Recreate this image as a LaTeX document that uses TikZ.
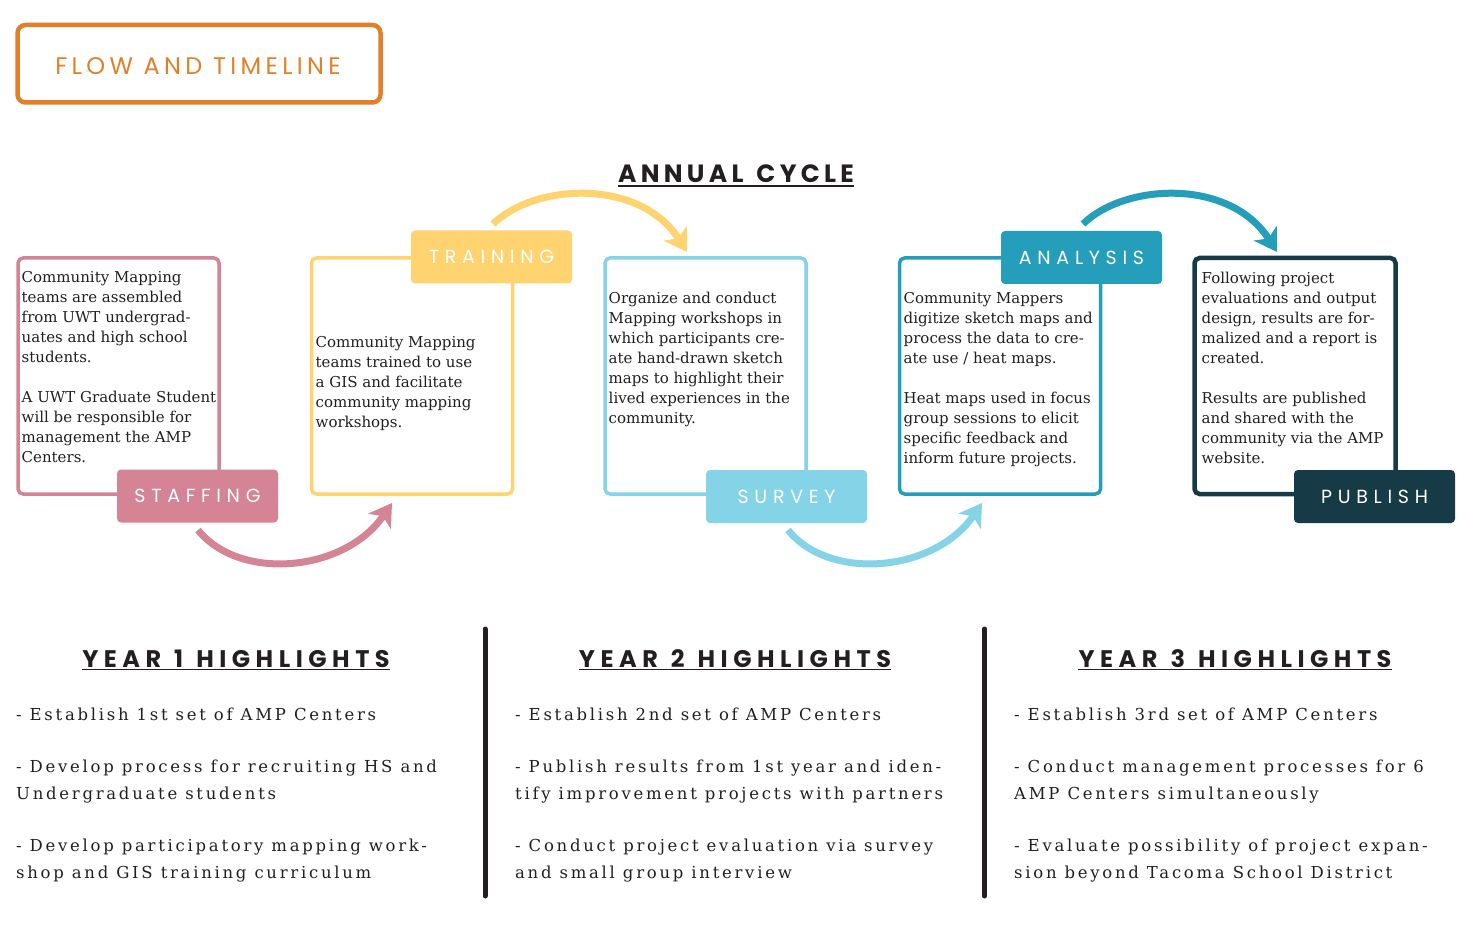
\documentclass[tikz,border=0pt]{standalone}
\usepackage{fontspec}
\setmainfont{DejaVu Serif}
\newfontfamily\titlefont{Poppins}[LetterSpace=18]
\newfontfamily\cyclefont{Poppins}[LetterSpace=17]
\newfontfamily\headfont{Poppins}[LetterSpace=23]
\newfontfamily\tagfont{Poppins}[LetterSpace=30]
\newfontfamily\listfont{DejaVu Serif}[LetterSpace=16.5]
\usetikzlibrary{arrows.meta}

\definecolor{cOrange}{HTML}{E08028}
\definecolor{cPink}{HTML}{D58496}
\definecolor{cYellow}{HTML}{FFD370}
\definecolor{cSky}{HTML}{84D3E6}
\definecolor{cTeal}{HTML}{259EBB}
\definecolor{cNavy}{HTML}{163A46}
\definecolor{cInk}{HTML}{231F20}

\newcommand{\wordgap}{\hspace{13pt}}

\tikzset{
  panel/.style={draw=#1, line width=3.5pt, rounded corners=5pt, fill=white,
    inner sep=0pt, minimum width=201pt, minimum height=236pt},
  tag/.style={fill=#1, rounded corners=4pt, text=white, inner sep=0pt,
    minimum width=161pt, minimum height=53pt,
    font=\tagfont\fontsize{19}{19}\selectfont},
  % first line starts with a strut of height 14pt, so the node top sits 14pt above the first baseline
  body/.style={font=\fontsize{15}{20}\selectfont, text=cInk, align=left,
    inner sep=0pt, anchor=north west},
  listtext/.style={font=\listfont\fontsize{16.5}{26.5}\selectfont, text=cInk,
    align=left, inner sep=0pt, anchor=north west},
  yearhead/.style={font=\headfont\bfseries\fontsize{24}{24}\selectfont,
    text=cInk, inner sep=0pt, anchor=base},
  flow/.style={draw=#1, line width=7pt,
    -{Stealth[length=22pt,width=27pt,inset=6pt]}},
  divider/.style={draw=cInk, line width=5pt, line cap=round}
}

\begin{document}
\begin{tikzpicture}[x=1pt,y=-1pt]
\useasboundingbox (0,0) rectangle (1467,925);

% title
\node[draw=cOrange, line width=4.5pt, rounded corners=8pt,
  minimum width=363pt, minimum height=77.5pt, inner sep=0pt] (title) at (199,63.75) {};
\node[font=\titlefont\fontsize{24}{24}\selectfont, text=cOrange, anchor=base, inner sep=0pt]
  (titletext) at (198,75) {FLOW AND TIMELINE};

% annual cycle heading
\node[font=\cyclefont\bfseries\fontsize{25}{25}\selectfont, text=cInk, anchor=base, inner sep=0pt]
  (cycle) at (736,183) {ANNUAL\wordgap CYCLE};
\draw[cInk, line width=2pt] ([yshift=-3pt]cycle.base west) -- ([yshift=-3pt]cycle.base east);

% curved arrows between stages
\coordinate (a1s) at (198,530);  \coordinate (a1e) at (392,503);
\coordinate (a2s) at (493,224);  \coordinate (a2e) at (687,252);
\coordinate (a3s) at (788,530);  \coordinate (a3e) at (982,503);
\coordinate (a4s) at (1083,224); \coordinate (a4e) at (1277,252);
\draw[flow=cPink]   (a1s) .. controls (240,582) and (345,572) .. (a1e);
\draw[flow=cYellow] (a2s) .. controls (535,183) and (640,178) .. (a2e);
\draw[flow=cSky]    (a3s) .. controls (830,582) and (935,572) .. (a3e);
\draw[flow=cTeal]   (a4s) .. controls (1125,183) and (1230,178) .. (a4e);

% stage panels
\node[panel=cPink]   (staffing) at (118.5,376) {};
\node[panel=cYellow] (training) at (412,376) {};
\node[panel=cSky]    (survey)   at (705.5,376) {};
\node[panel=cTeal]   (analysis) at (1000,376) {};
\node[panel=cNavy, line width=4.5pt] (publish) at (1295,376) {};

% stage tags
\node[tag=cPink]   (staffingtag) at (197.5,496) {STAFFING};
\node[tag=cYellow] (trainingtag) at (491.5,257) {TRAINING};
\node[tag=cSky]    (surveytag)   at (786.5,496.5) {SURVEY};
\node[tag=cTeal]   (analysistag) at (1081.5,257.5) {ANALYSIS};
\node[tag=cNavy]   (publishtag)  at (1374.5,496.5) {PUBLISH};

% stage descriptions (first baseline = y + 14)
\node[body] (staffingtext) at (21.5,268) {\strut Community Mapping\\teams are assembled\\from UWT undergrad-\\uates and high school\\students.\\[20pt]A UWT Graduate Student\\will be responsible for\\management the AMP\\Centers.};
\node[body] (trainingtext) at (315.5,333) {\strut Community Mapping\\teams trained to use\\a GIS and facilitate\\community mapping\\workshops.};
\node[body] (surveytext) at (608.5,289) {\strut Organize and conduct\\Mapping workshops in\\which participants cre-\\ate hand-drawn sketch\\maps to highlight their\\lived experiences in the\\community.};
\node[body] (analysistext) at (903.5,289) {\strut Community Mappers\\digitize sketch maps and\\process the data to cre-\\ate use / heat maps.\\[20pt]Heat maps used in focus\\group sessions to elicit\\specific feedback and\\inform future projects.};
\node[body] (publishtext) at (1201.5,269) {\strut Following project\\evaluations and output\\design, results are for-\\malized and a report is\\created.\\[20pt]Results are published\\and shared with the\\community via the AMP\\website.};

% column dividers
\coordinate (d1t) at (485,629); \coordinate (d1b) at (485,896);
\coordinate (d2t) at (984.5,629); \coordinate (d2b) at (984.5,896);
\draw[divider] (d1t) -- (d1b);
\draw[divider] (d2t) -- (d2b);

% yearly highlights
\node[yearhead] (year1) at (236,667) {YEAR\wordgap 1\wordgap HIGHLIGHTS};
\node[yearhead] (year2) at (735,667) {YEAR\wordgap 2\wordgap HIGHLIGHTS};
\node[yearhead] (year3) at (1235,667) {YEAR\wordgap 3\wordgap HIGHLIGHTS};
\foreach \y in {year1,year2,year3}
  \draw[cInk, line width=1.6pt] ([yshift=-2.5pt]\y.base west) -- ([yshift=-2.5pt]\y.base east);

% highlight lists (strut height 0.7 x 26.5pt = 18.55pt above the first baseline at 720)
\node[listtext] (list1) at (16,701.45) {\strut - Establish 1st set of AMP Centers\\[26pt]- Develop process for recruiting HS and\\Undergraduate students\\[26pt]- Develop participatory mapping work-\\shop and GIS training curriculum};
\node[listtext] (list2) at (515,701.45) {\strut - Establish 2nd set of AMP Centers\\[26pt]- Publish results from 1st year and iden-\\tify improvement projects with partners\\[26pt]- Conduct project evaluation via survey\\and small group interview};
\node[listtext] (list3) at (1014,701.45) {\strut - Establish 3rd set of AMP Centers\\[26pt]- Conduct management processes for 6\\AMP Centers simultaneously\\[26pt]- Evaluate possibility of project expan-\\sion beyond Tacoma School District};
\end{tikzpicture}
\end{document}
